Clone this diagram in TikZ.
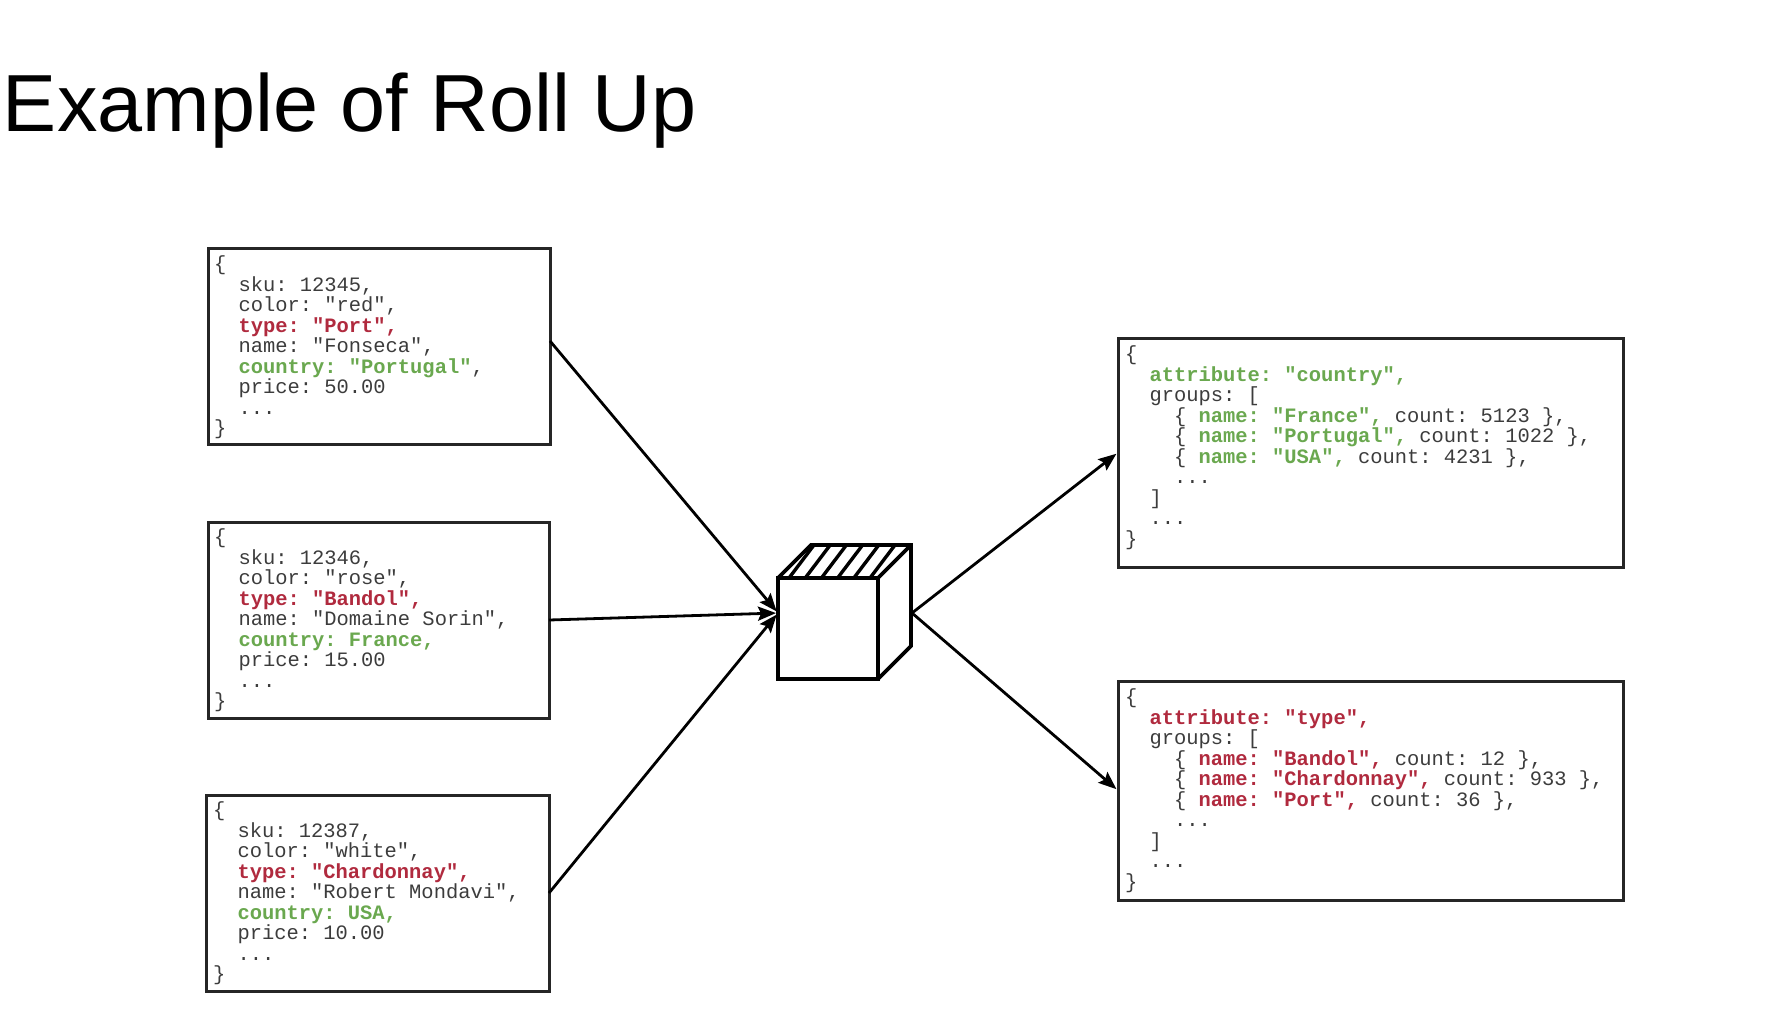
\documentclass[tikz,border=0pt]{standalone}
\usepackage{fontspec}
\usetikzlibrary{arrows.meta}
\setmainfont{Liberation Sans}
\setmonofont{Liberation Mono}
\definecolor{rollred}{HTML}{B02A3E}
\definecolor{rollgreen}{HTML}{6AA84F}
\definecolor{rollgray}{HTML}{3C3C3C}
\newcommand{\redtxt}[1]{\textcolor{rollred}{\bfseries #1}}
\newcommand{\greentxt}[1]{\textcolor{rollgreen}{\bfseries #1}}
\begin{document}
\begin{tikzpicture}[x=0.5pt,y=-0.5pt,inner sep=0pt,outer sep=0pt,line width=1.5pt,
>={Stealth[length=9pt,width=7pt,inset=1.5pt]},
docblock/.style={draw,rectangle,anchor=north west,line width=1.5pt,color=black!85},
codetext/.style={anchor=north west,align=left,text=rollgray,font=\ttfamily\fontsize{10.22}{10.25}\selectfont},
hatchline/.style={line width=1.7pt},
flow/.style={->,line width=1.4pt,shorten >=1pt}]
\useasboundingbox (0,0) rectangle (1780,1017);
\draw (3,131) node[anchor=base west,font=\fontsize{40.5}{44}\selectfont,text=black] (title) {Example of Roll Up};
% input documents
\draw (208,248) node[docblock,minimum width=171pt,minimum height=98pt] (doc1) {};
\draw (doc1.north west) ++(6,8) node[codetext] (doc1text) {\{\\
~~sku: 12345,\\
~~color: "red",\\
~~\redtxt{type: "Port",}\\
~~name: "Fonseca",\\
~~\greentxt{country: "Portugal"},\\
~~price: 50.00\\
~~...\\
\}};
\draw (208,522) node[docblock,minimum width=170.5pt,minimum height=98pt] (doc2) {};
\draw (doc2.north west) ++(6,7) node[codetext] (doc2text) {\{\\
~~sku: 12346,\\
~~color: "rose",\\
~~\redtxt{type: "Bandol",}\\
~~name: "Domaine Sorin",\\
~~\greentxt{country: France,}\\
~~price: 15.00\\
~~...\\
\}};
\draw (206,795) node[docblock,minimum width=171.5pt,minimum height=98pt] (doc3) {};
\draw (doc3.north west) ++(7,7) node[codetext] (doc3text) {\{\\
~~sku: 12387,\\
~~color: "white",\\
~~\redtxt{type: "Chardonnay",}\\
~~name: "Robert Mondavi",\\
~~\greentxt{country: USA,}\\
~~price: 10.00\\
~~...\\
\}};
% cube
\draw (778,578) node[draw,rectangle,anchor=north west,minimum width=50pt,minimum height=50.5pt,line width=1.8pt] (cube) {};
\draw[line width=1.8pt,line join=miter] (cube.north west) -- ++(33,-33) coordinate (backl) -- ++(100,0) coordinate (backr) -- ++(0,101) coordinate (backb) -- (cube.south east);
\draw[line width=1.8pt] (cube.north east) -- (backr);
\foreach \i in {0,...,5} {
  \draw[hatchline] (cube.north west) ++(\i*16.2+11,0) -- ++(25,-33);
}
\coordinate (cubein) at (778,613);
\coordinate (cubeout) at (912,613);
% results
\draw (1118,338) node[docblock,minimum width=252.5pt,minimum height=114.5pt] (res1) {};
\draw (res1.north west) ++(7,8) node[codetext] (res1text) {\{\\
~~\greentxt{attribute: "country",}\\
~~groups: [\\
~~~~\{ \greentxt{name: "France",} count: 5123 \},\\
~~~~\{ \greentxt{name: "Portugal",} count: 1022 \},\\
~~~~\{ \greentxt{name: "USA",} count: 4231 \},\\
~~~~...\\
~~]\\
~~...\\
\}};
\draw (1118,681) node[docblock,minimum width=252.5pt,minimum height=109.5pt] (res2) {};
\draw (res2.north west) ++(7,8) node[codetext] (res2text) {\{\\
~~\redtxt{attribute: "type",}\\
~~groups: [\\
~~~~\{ \redtxt{name: "Bandol",} count: 12 \},\\
~~~~\{ \redtxt{name: "Chardonnay",} count: 933 \},\\
~~~~\{ \redtxt{name: "Port",} count: 36 \},\\
~~~~...\\
~~]\\
~~...\\
\}};
% arrows
\draw[flow] ([yshift=2.5pt]doc1.east) -- (cubein);
\draw[flow] (doc2.east) -- (cubein);
\draw[flow] (doc3.east) -- (cubein);
\draw[flow] (cubeout) -- (res1.west);
\draw[flow] (cubeout) -- (res2.west);
\end{tikzpicture}
\end{document}
